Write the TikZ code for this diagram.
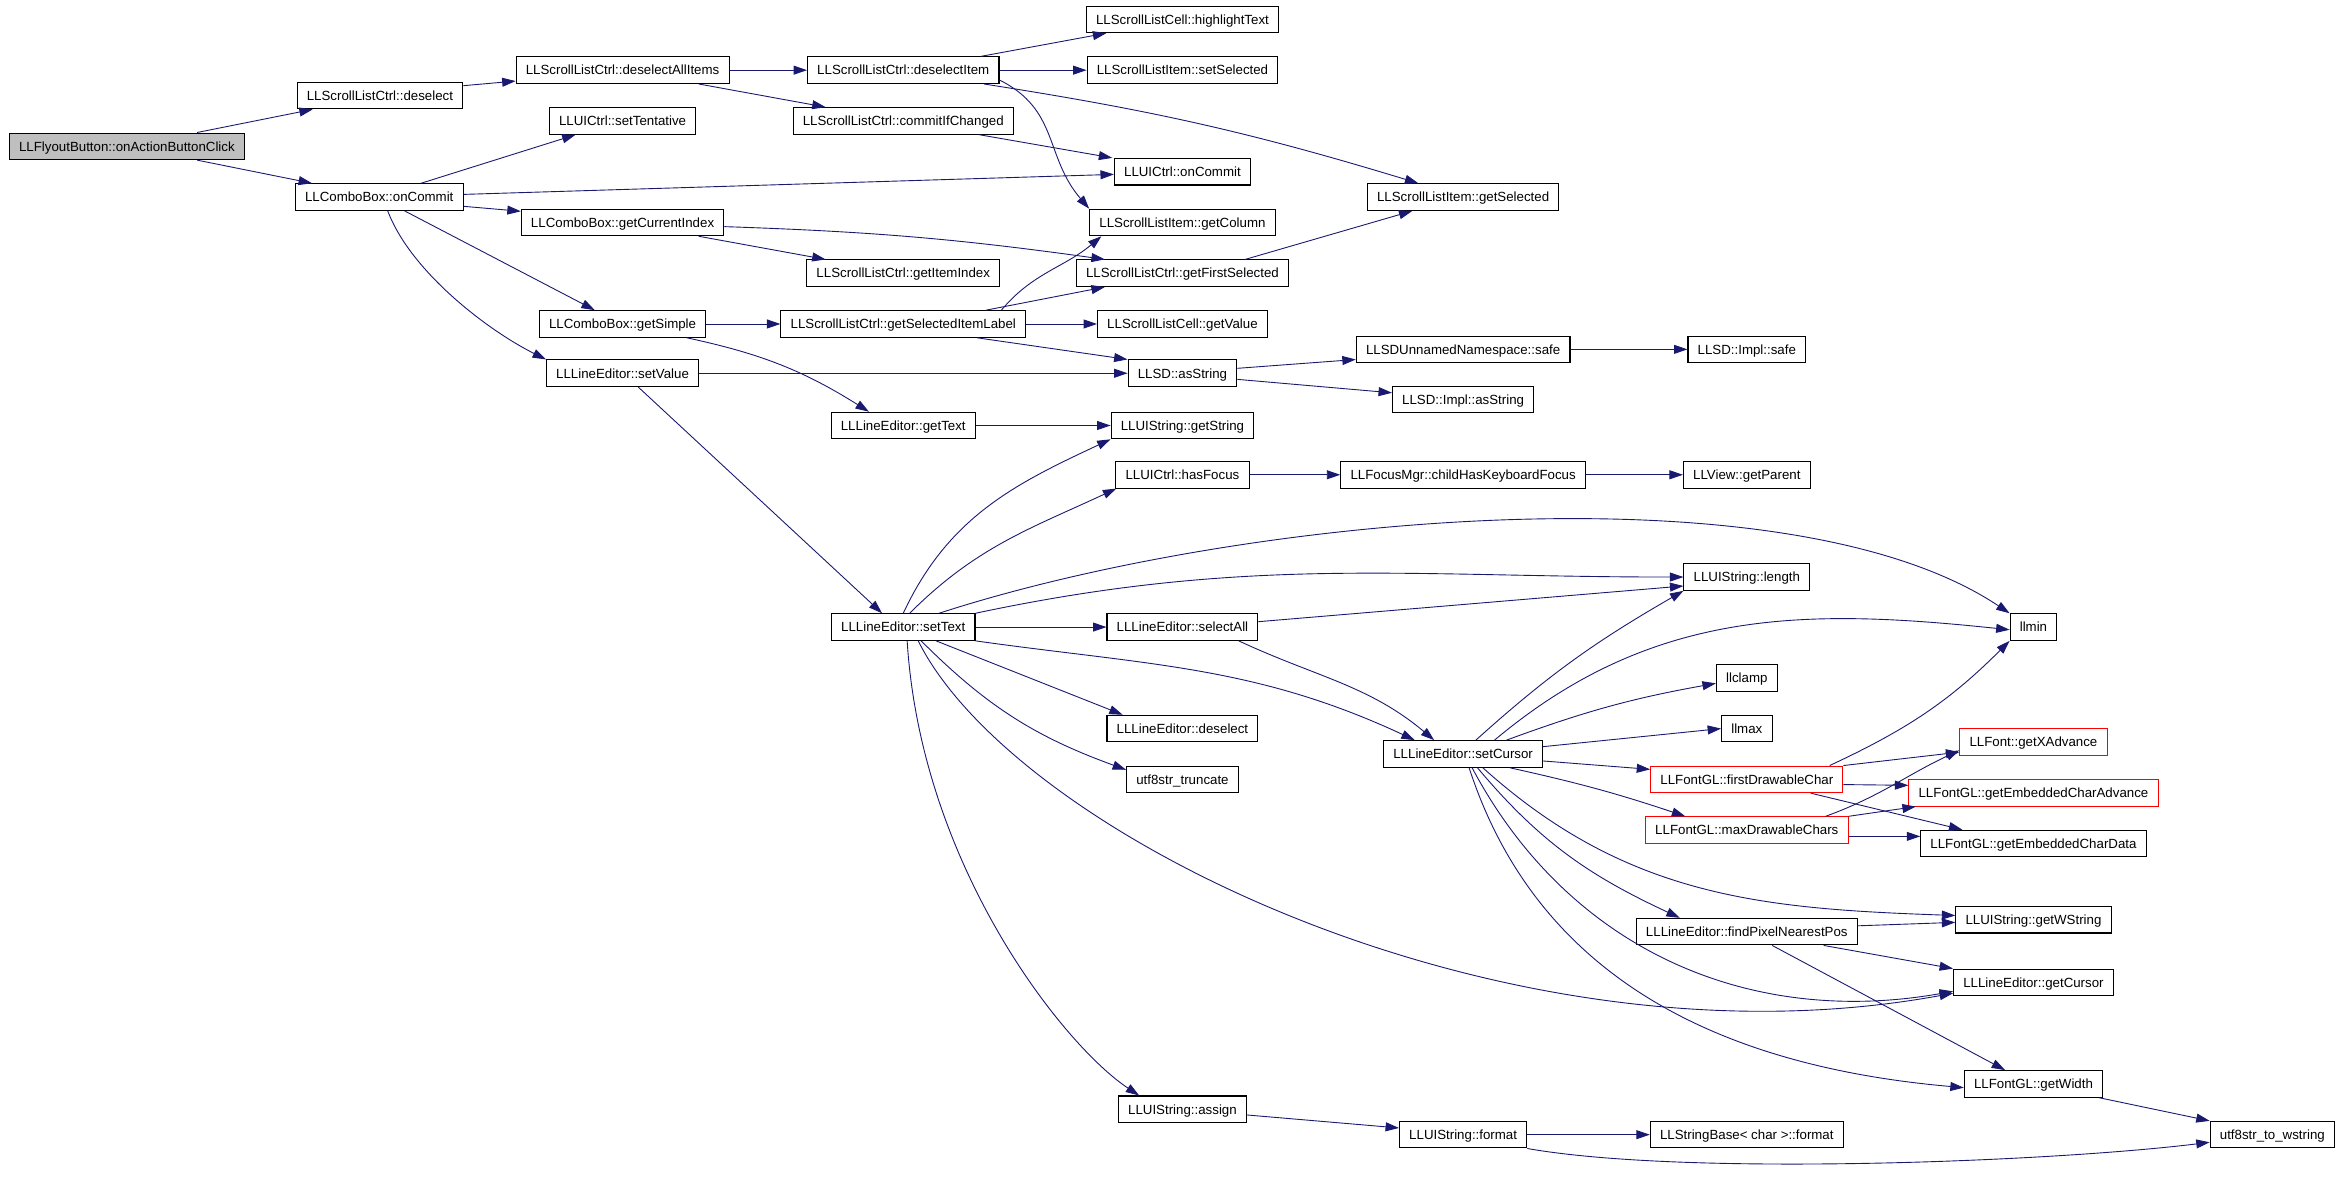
\documentclass[tikz,border=0pt]{standalone}
\usepackage{fontspec}
\setmainfont{Liberation Sans}
\usepackage{tikz}
\usetikzlibrary{arrows.meta}

\definecolor{callblue}{HTML}{191970}
\definecolor{rootgray}{HTML}{BFBFBF}

\tikzset{
  box/.style={draw=black, line width=0.7pt, minimum height=17.8pt, inner xsep=6.5pt,
    inner ysep=0pt, text height=6.4pt, text depth=0pt, font=\fontsize{8.9pt}{10pt}\selectfont},
  rootbox/.style={box, fill=rootgray},
  redbox/.style={box, draw=red},
  call/.style={draw=callblue, line width=0.6pt, -{Triangle[length=9pt,width=6pt]}, fill=none}
}

\begin{document}
\begin{tikzpicture}[x=1pt,y=1pt]
\useasboundingbox (0,0) rectangle (1568,-789.7);

% ranks, left to right
\node[rootbox] (onclick) at (85,-98) {LLFlyoutButton::onActionButtonClick};

\node[box] (sldesel) at (254.5,-64) {LLScrollListCtrl::deselect};
\node[box] (cbcommit) at (254,-132) {LLComboBox::onCommit};

\node[box] (deselall) at (417,-47) {LLScrollListCtrl::deselectAllItems};
\node[box] (tentative) at (417,-81) {LLUICtrl::setTentative};
\node[box] (curidx) at (417,-149) {LLComboBox::getCurrentIndex};
\node[box] (getsimple) at (417,-217) {LLComboBox::getSimple};
\node[box] (setvalue) at (417,-250) {LLLineEditor::setValue};

\node[box] (deselitem) at (605,-47) {LLScrollListCtrl::deselectItem};
\node[box] (commitif) at (605,-81) {LLScrollListCtrl::commitIfChanged};
\node[box] (itemidx) at (605,-183) {LLScrollListCtrl::getItemIndex};
\node[box] (sellabel) at (605,-217) {LLScrollListCtrl::getSelectedItemLabel};
\node[box] (gettext) at (605,-285) {LLLineEditor::getText};
\node[box] (settext) at (605,-420) {LLLineEditor::setText};

\node[box] (hilite) at (792,-13) {LLScrollListCell::highlightText};
\node[box] (setsel) at (792,-47) {LLScrollListItem::setSelected};
\node[box] (uicommit) at (792,-115) {LLUICtrl::onCommit};
\node[box] (getcol) at (792,-149) {LLScrollListItem::getColumn};
\node[box] (firstsel) at (792,-183) {LLScrollListCtrl::getFirstSelected};
\node[box] (cellval) at (792,-217) {LLScrollListCell::getValue};
\node[box] (asstr) at (792,-250) {LLSD::asString};
\node[box] (getstr) at (792,-285) {LLUIString::getString};
\node[box] (hasfocus) at (792,-318) {LLUICtrl::hasFocus};
\node[box] (selall) at (792,-420) {LLLineEditor::selectAll};
\node[box] (ledesel) at (792,-488) {LLLineEditor::deselect};
\node[box] (truncate) at (792,-522) {utf8str\_truncate};
\node[box] (assign) at (792,-743) {LLUIString::assign};

\node[box] (getselected) at (980,-132) {LLScrollListItem::getSelected};
\node[box] (unsafe) at (980,-234) {LLSDUnnamedNamespace::safe};
\node[box] (implasstr) at (980,-267.5) {LLSD::Impl::asString};
\node[box] (kbfocus) at (980,-318) {LLFocusMgr::childHasKeyboardFocus};
\node[box] (setcursor) at (980,-505) {LLLineEditor::setCursor};
\node[box] (uiformat) at (980,-760) {LLUIString::format};

\node[box] (implsafe) at (1170,-234) {LLSD::Impl::safe};
\node[box] (getparent) at (1170,-318) {LLView::getParent};
\node[box] (length) at (1170,-386.5) {LLUIString::length};
\node[box] (llclamp) at (1170,-454) {llclamp};
\node[box] (llmax) at (1170,-488) {llmax};
\node[redbox] (firstchar) at (1170,-522) {LLFontGL::firstDrawableChar};
\node[redbox] (maxchars) at (1170,-556) {LLFontGL::maxDrawableChars};
\node[box] (pixelpos) at (1170,-624) {LLLineEditor::findPixelNearestPos};
\node[box] (sbformat) at (1170,-760) {LLStringBase< char >::format};

\node[box] (llmin) at (1362,-420) {llmin};
\node[redbox] (xadv) at (1362,-497) {LLFont::getXAdvance};
\node[redbox] (charadv) at (1362,-531) {LLFontGL::getEmbeddedCharAdvance};
\node[box] (chardata) at (1362,-565) {LLFontGL::getEmbeddedCharData};
\node[box] (wstring) at (1362,-616) {LLUIString::getWString};
\node[box] (getcursor) at (1362,-658) {LLLineEditor::getCursor};
\node[box] (getwidth) at (1362,-726) {LLFontGL::getWidth};

\node[box] (towstr) at (1522,-760) {utf8str\_to\_wstring};

% calls out of the first ranks
\draw[call] ([xshift=47pt]onclick.north) -- ([xshift=-45pt]sldesel.south);
\draw[call] ([xshift=47pt]onclick.south) -- ([xshift=-45pt]cbcommit.north);
\draw[call] ([yshift=6.6pt]sldesel.east) -- ([yshift=-7.3pt]deselall.west);
\draw[call] (deselall) -- (deselitem);
\draw[call] ([xshift=51pt]deselall.south) -- ([xshift=-52pt]commitif.north);
\draw[call] ([xshift=52pt]deselitem.north) -- ([xshift=-51pt]hilite.south);
\draw[call] (deselitem) -- (setsel);
\draw[call] ([xshift=54pt]deselitem.south) to[bend left=4] ([xshift=-30pt]getselected.north);
\draw[call] ([yshift=-6.6pt]deselitem.east) .. controls +(40,-20) and +(-30,35) .. (getcol.north west);
\draw[call] ([xshift=51pt]commitif.south) -- ([xshift=-47pt]uicommit.north);
\draw[call] ([xshift=28pt]cbcommit.north) -- ([xshift=-31.5pt]tentative.south);
\draw[call] ([yshift=1.8pt]cbcommit.east) -- ([yshift=-1.8pt]uicommit.west);
\draw[call] ([yshift=-6.2pt]cbcommit.east) -- ([yshift=7.5pt]curidx.west);
\draw[call] ([xshift=17pt]cbcommit.south) -- ([xshift=-18.6pt]getsimple.north);
\draw[call] ([xshift=5.7pt]cbcommit.south) .. controls +(15,-40) and +(-40,20) .. (setvalue.north west);
\draw[call] ([xshift=51pt]curidx.south) -- ([xshift=-52pt]itemidx.north);
\draw[call] ([yshift=-2.8pt]curidx.east) to[bend left=3] ([xshift=-52pt]firstsel.north);
\draw[call] ([xshift=42pt]firstsel.north) -- ([xshift=-34pt]getselected.south);
\draw[call] (getsimple) -- (sellabel);
\draw[call] ([xshift=43pt]getsimple.south) to[bend left=10] ([xshift=-23pt]gettext.north);
\draw[call] ([xshift=65.7pt]sellabel.north) to[out=50,in=-140] ([xshift=-54.3pt]getcol.south);
\draw[call] ([xshift=55.4pt]sellabel.north) -- ([xshift=-52pt]firstsel.south);
\draw[call] (sellabel) -- (cellval);
\draw[call] ([xshift=49.4pt]sellabel.south) -- (asstr.north west);
\draw[call] (setvalue) -- (asstr);
\draw[call] ([xshift=10.5pt]setvalue.south) -- ([xshift=-14.2pt]settext.north);
\draw[call] ([yshift=3.3pt]asstr.east) -- ([yshift=-6.8pt]unsafe.west);
\draw[call] ([yshift=-4.1pt]asstr.east) -- ([yshift=4.4pt]implasstr.west);
\draw[call] (unsafe) -- (implsafe);
\draw[call] (gettext) -- (getstr);

% calls out of setText
\draw[call] (settext.north) to[out=65,in=-155] (getstr.south west);
\draw[call] ([xshift=4.3pt]settext.north) to[out=45,in=-155] ([xshift=-44.3pt]hasfocus.south);
\draw[call] ([xshift=24pt]settext.north) .. controls +(200,65) and +(-150,100) .. (llmin.north west);
\draw[call] (settext.north east) to[out=12,in=180] (length.west);
\draw[call] (settext) -- (selall);
\draw[call] (settext.south east) to[out=-8,in=155] ([xshift=-32.4pt]setcursor.north);
\draw[call] ([xshift=22pt]settext.south) -- ([xshift=-40pt]ledesel.north);
\draw[call] ([xshift=12pt]settext.south) to[out=-45,in=160] ([yshift=6.4pt]truncate.west);
\draw[call] ([xshift=10pt]settext.south) .. controls +(65,-130) and +(-300,-55) .. ([yshift=2pt]getcursor.south west);
\draw[call] ([xshift=2.6pt]settext.south) .. controls +(9.4,-151.3) and +(-50,33) .. ([xshift=-29pt]assign.north);
\draw[call] (hasfocus) -- (kbfocus);
\draw[call] (kbfocus) -- (getparent);
\draw[call] ([yshift=3.6pt]selall.east) -- ([yshift=-6pt]length.west);
\draw[call] ([xshift=37.7pt]selall.south) to[out=-25,in=140] ([xshift=-19.4pt]setcursor.north);

% calls out of setCursor
\draw[call] ([xshift=8.5pt]setcursor.north) to[out=42,in=-150] (length.south west);
\draw[call] ([xshift=21pt]setcursor.north) to[out=40,in=174] ([yshift=-1.8pt]llmin.west);
\draw[call] ([xshift=29pt]setcursor.north) to[bend left=5] ([yshift=-3.7pt]llclamp.west);
\draw[call] ([yshift=4.9pt]setcursor.east) -- (llmax.west);
\draw[call] ([yshift=-4.7pt]setcursor.east) -- ([yshift=6.7pt]firstchar.west);
\draw[call] ([xshift=31.3pt]setcursor.south) to[bend left=3] ([xshift=-41.2pt]maxchars.north);
\draw[call] ([xshift=13.2pt]setcursor.south) to[out=-42,in=178] ([yshift=2.8pt]wstring.west);
\draw[call] ([xshift=9.6pt]setcursor.south) to[out=-50,in=155] ([xshift=-44.9pt]pixelpos.north);
\draw[call] ([xshift=6pt]setcursor.south) to[out=-62,in=-170] ([yshift=-6pt]getcursor.west);
\draw[call] ([xshift=4pt]setcursor.south) to[out=-72,in=175] ([yshift=-2.5pt]getwidth.west);

% font calls
\draw[call] ([xshift=55.5pt]firstchar.north) to[out=25,in=-135] (llmin.south west);
\draw[call] (firstchar.north east) -- ([yshift=-6.8pt]xadv.west);
\draw[call] ([yshift=-3.5pt]firstchar.east) -- ([yshift=5pt]charadv.west);
\draw[call] ([xshift=42.8pt]firstchar.south) -- ([xshift=-47.6pt]chardata.north);
\draw[call] ([xshift=52.8pt]maxchars.north) to[out=20,in=-155] ([yshift=-5.6pt]xadv.west);
\draw[call] (maxchars.north east) -- ([xshift=5pt]charadv.south west);
\draw[call] ([yshift=-4.2pt]maxchars.east) -- ([yshift=4.8pt]chardata.west);
\draw[call] ([yshift=3.9pt]pixelpos.east) -- ([yshift=-1.8pt]wstring.west);
\draw[call] ([xshift=51.5pt]pixelpos.south) -- (getcursor.north west);
\draw[call] ([xshift=17pt]pixelpos.south) -- ([xshift=-19pt]getwidth.north);
\draw[call] ([xshift=44pt]getwidth.south) -- (towstr.north west);

% bottom row
\draw[call] ([yshift=-3.8pt]assign.east) -- ([yshift=4.5pt]uiformat.west);
\draw[call] (uiformat) -- (sbformat);
\draw[call] (uiformat.south east) to[out=-10,in=-173,looseness=0.6] ([yshift=-5.1pt]towstr.west);
\end{tikzpicture}
\end{document}
